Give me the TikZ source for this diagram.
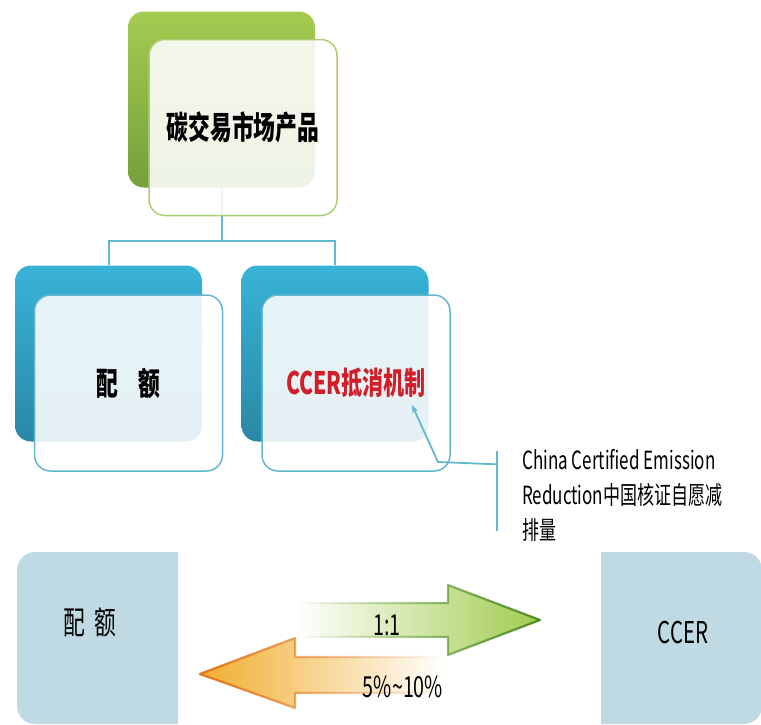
\documentclass[tikz,border=0pt]{standalone}
\usepackage{fontspec}
\setmainfont{Noto Sans CJK SC}[FakeStretch=0.68]
\usepackage{tikz}
\usetikzlibrary{arrows.meta, calc, fadings}

\definecolor{grnTop}{HTML}{A6CB52}
\definecolor{grnBot}{HTML}{74A03A}
\definecolor{grnLine}{HTML}{AACF72}
\definecolor{bluTop}{HTML}{38B3D7}
\definecolor{bluBot}{HTML}{2A88A6}
\definecolor{bluLine}{HTML}{62B8CF}
\definecolor{padBlue}{HTML}{C0DAE4}
\definecolor{ccerRed}{HTML}{D11F2A}
\definecolor{arrGreen}{HTML}{A2CC50}
\definecolor{arrGreenDk}{HTML}{4F8E25}
\definecolor{arrOrange}{HTML}{F0AE2E}
\definecolor{arrOrangeDk}{HTML}{E2741E}

\begin{document}
\begin{tikzpicture}[
  x=1pt, y=-1pt,
  every node/.style={font=\fontsize{30}{35}\selectfont},
  back/.style={rounded corners=16pt, minimum width=187pt, minimum height=176pt, inner sep=0pt},
  card/.style={draw, line width=1.5pt, rounded corners=16pt, minimum width=188pt, minimum height=176pt, inner sep=0pt, fill=white, fill opacity=0.88, text opacity=1, align=center, font=\fontsize{32}{35}\selectfont\bfseries},
  link/.style={bluLine, line width=2pt},
  pad/.style={minimum width=161pt, minimum height=172pt, inner sep=0pt, fill=white},
  ratio/.style={font=\fontsize{29}{30}\selectfont}
]
\useasboundingbox (0,0) rectangle (761,724);

\node[back, top color=grnTop, bottom color=grnBot] (prodbk) at (221.5,99.5) {};
\node[back, top color=bluTop, bottom color=bluBot] (quotabk) at (108.5,353.5) {};
\node[back, top color=bluTop, bottom color=bluBot] (ccerbk) at (335,353.5) {};

\coordinate (fork) at ($(prodbk.south)+(0,53)$);
\draw[link] (prodbk.south) -- (fork);
\draw[link] (fork) -| (quotabk.north);
\draw[link] (fork) -| (ccerbk.north);

\node[card, draw=grnLine] (prod) at (243,127.5) {碳交易市场产品};
\node[card, draw=bluLine] (quota) at (128.5,383) {配\hspace{20pt}额};
\node[card, draw=bluLine, text=ccerRed, font=\fontsize{31}{35}\selectfont\bfseries] (ccer) at (356,383) {CCER抵消机制};

\node[anchor=north west, inner sep=0pt, align=left, font=\fontsize{25}{35}\selectfont] (note) at (522,449) {China Certified Emission\\Reduction中国核证自愿减\\排量};
\draw[link] ($(note.west)+(-25,-44)$) -- ($(note.west)+(-25,36)$);
\coordinate (bend) at (438,462);
\draw[link, line width=1.8pt, -{Stealth[length=8pt,width=6pt]}] ($(note.west)+(-25,-31)$) -- (bend) -- ($(ccer.center)+(56,22)$);

\node[pad, path picture={\fill[padBlue, rounded corners=18pt] (path picture bounding box.north west) rectangle ([xshift=30pt]path picture bounding box.south east);}] (quota2) at (97.5,638) {};
\node[font=\fontsize{32}{35}\selectfont] (quota2txt) at ([xshift=-7.5pt,yshift=16pt]quota2.center) {配\hspace{9pt}额};
\node[pad, path picture={\fill[padBlue, rounded corners=18pt] ([xshift=-30pt]path picture bounding box.north west) rectangle (path picture bounding box.south east);}] (ccer2) at (681.5,638) {};
\node (ccer2txt) at ([xshift=1.5pt,yshift=6pt]ccer2.center) {CCER};

\shade[left color=white, right color=arrGreen] (297,603) -- (448,603) -- (448,585) -- (540,620) -- (448,655) -- (448,637) -- (297,637) -- cycle;
\draw[arrGreenDk, line width=2.2pt, line join=round, path fading=west] (297,603) -- (448,603) -- (448,585) -- (540,620) -- (448,655) -- (448,637) -- (297,637);
\shade[left color=arrOrange, right color=white] (443,657) -- (295,657) -- (295,638) -- (200,674) -- (295,708) -- (295,693) -- (443,693) -- cycle;
\draw[arrOrangeDk, line width=2.2pt, line join=round, path fading=east] (443,657) -- (295,657) -- (295,638) -- (200,674) -- (295,708) -- (295,693) -- (443,693);

\node[ratio] (oneone) at (387,625) {1:1};
\node[ratio] (offset) at (403,687) {5\%\textasciitilde10\%};

\end{tikzpicture}
\end{document}
